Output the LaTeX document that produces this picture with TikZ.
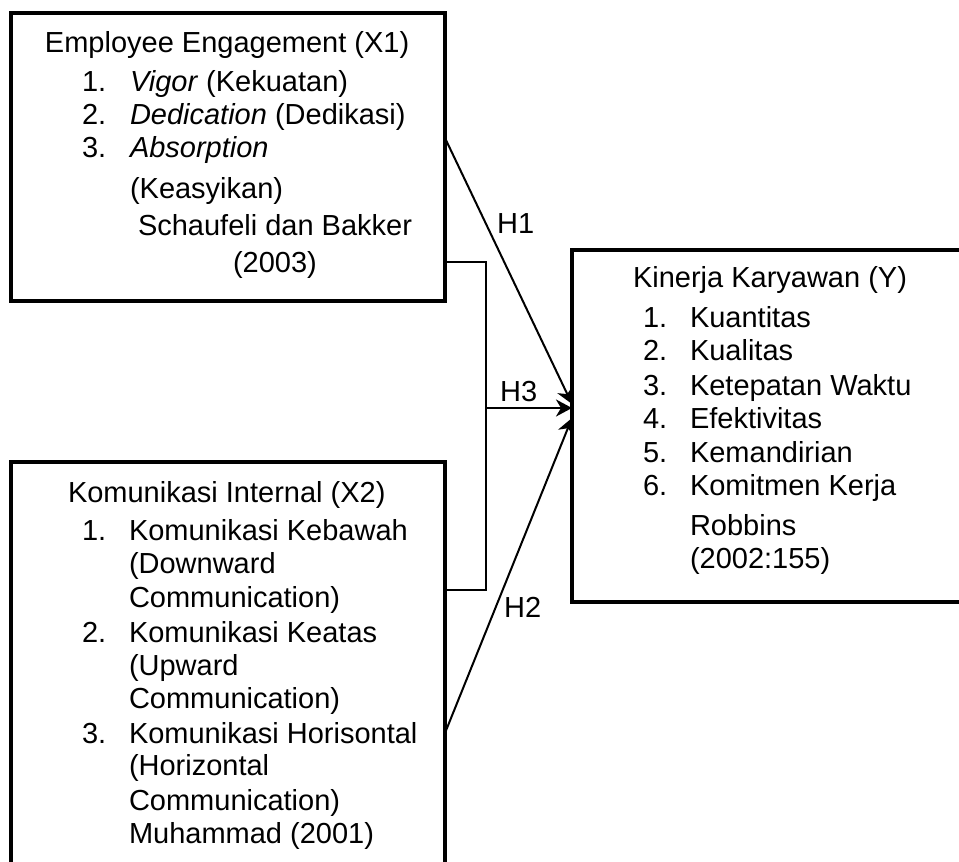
\documentclass[tikz,border=0pt]{standalone}
\usepackage{fontspec}
\setmainfont{Liberation Sans}
\usetikzlibrary{arrows.meta,calc}
\begin{document}
\begin{tikzpicture}[x=1pt,y=-1pt,
  box/.style={draw=black,line width=4.5pt,rectangle,inner sep=0pt,outer sep=0pt},
  txt/.style={anchor=base west,inner sep=0pt,outer sep=0pt,font=\fontsize{29}{33}\selectfont},
  conn/.style={draw=black,line width=2pt},
  arr/.style={conn,-{Stealth[length=16pt,width=17pt,inset=5pt]}},
  lbl/.style={anchor=base west,inner sep=0pt,font=\fontsize{29}{33}\selectfont}]
\useasboundingbox (0,0) rectangle (959,862);
\clip (0,0) rectangle (959,862);
% boxes
\node[box,minimum width=434pt,minimum height=288pt] (x1) at (228,157) {};
\node[box,minimum width=434pt,minimum height=440pt] (x2) at (228,682) {};
\node[box,minimum width=404pt,minimum height=352pt] (y) at (774,426) {};
% X1 text
\node[txt] (t11) at (45,52) {Employee Engagement (X1)};
\node[txt] (t12) at (82,91) {1.};
\node[txt] (t13) at (130,91) {\textit{Vigor} (Kekuatan)};
\node[txt] (t14) at (82,124) {2.};
\node[txt] (t15) at (130,124) {\textit{Dedication} (Dedikasi)};
\node[txt] (t16) at (82,157) {3.};
\node[txt] (t17) at (130,157) {\textit{Absorption}};
\node[txt] (t18) at (130,198) {(Keasyikan)};
\node[txt] (t19) at (138,235) {Schaufeli dan Bakker};
\node[txt] (t1a) at (233,272) {(2003)};
% X2 text
\node[txt] (t21) at (68,502) {Komunikasi Internal (X2)};
\node[txt] (t22) at (82,540) {1.};
\node[txt] (t23) at (129,540) {Komunikasi Kebawah};
\node[txt] (t24) at (129,573) {(Downward};
\node[txt] (t25) at (129,607) {Communication)};
\node[txt] (t26) at (82,642) {2.};
\node[txt] (t27) at (129,642) {Komunikasi Keatas};
\node[txt] (t28) at (129,675) {(Upward};
\node[txt] (t29) at (129,708) {Communication)};
\node[txt] (t2a) at (82,743) {3.};
\node[txt] (t2b) at (129,743) {Komunikasi Horisontal};
\node[txt] (t2c) at (129,775) {(Horizontal};
\node[txt] (t2d) at (129,810) {Communication)};
\node[txt] (t2e) at (129,843) {Muhammad (2001)};
% Y text
\node[txt] (t31) at (633,287) {Kinerja Karyawan (Y)};
\node[txt] (t32) at (643,327) {1.};
\node[txt] (t33) at (690,327) {Kuantitas};
\node[txt] (t34) at (643,360) {2.};
\node[txt] (t35) at (690,360) {Kualitas};
\node[txt] (t36) at (643,395) {3.};
\node[txt] (t37) at (690,395) {Ketepatan Waktu};
\node[txt] (t38) at (643,428) {4.};
\node[txt] (t39) at (690,428) {Efektivitas};
\node[txt] (t3a) at (643,462) {5.};
\node[txt] (t3b) at (690,462) {Kemandirian};
\node[txt] (t3c) at (643,495) {6.};
\node[txt] (t3d) at (690,495) {Komitmen Kerja};
\node[txt] (t3e) at (690,535) {Robbins};
\node[txt] (t3f) at (690,568) {(2002:155)};
% connectors
\coordinate (bk) at (486,408);
\draw[conn] ($(x1.east)+(0,105)$) -| (bk) |- ($(x2.east)+(0,-92)$);
\draw[arr] (bk) -- ($(y.west)+(0,-18)$);
\draw[arr] ($(x1.east)+(0,-19)$) -- ($(y.west)+(0,-22)$);
\draw[arr] ($(x2.east)+(0,51)$) -- ($(y.west)+(0,-8)$);
% labels
\node[lbl] (h1) at (497,233) {H1};
\node[lbl] (h3) at (500,401) {H3};
\node[lbl] (h2) at (504,617) {H2};
\end{tikzpicture}
\end{document}
